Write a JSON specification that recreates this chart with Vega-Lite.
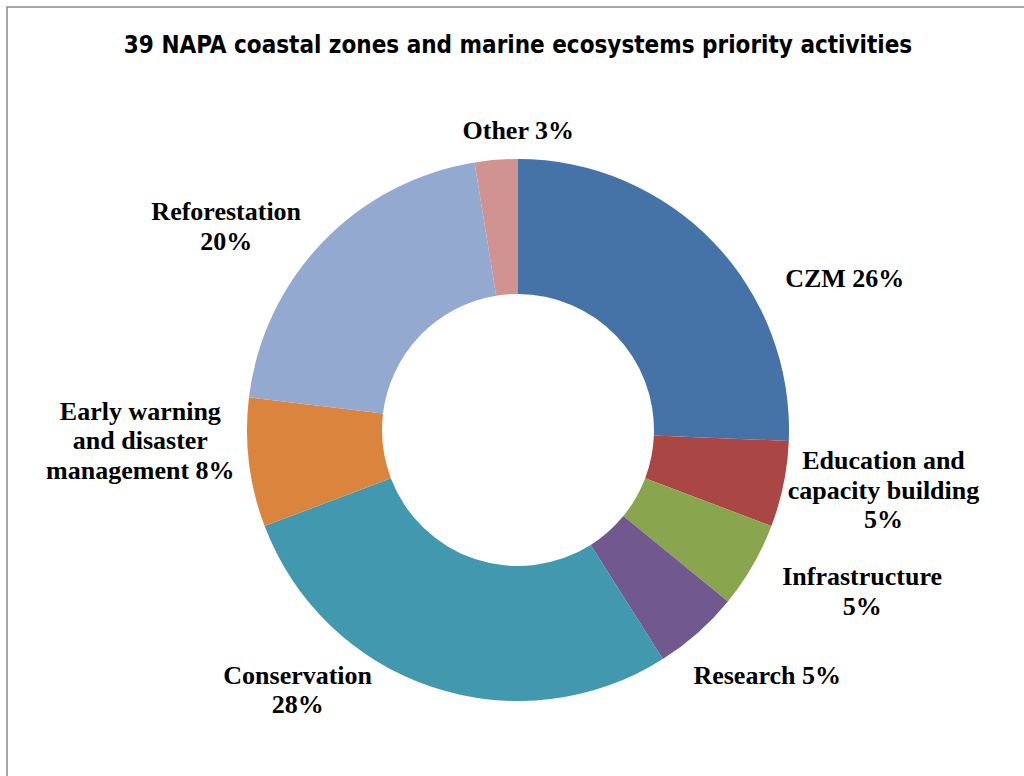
{
  "$schema": "https://vega.github.io/schema/vega-lite/v6.json",
  "width": 1022,
  "height": 846,
  "autosize": {"type": "none"},
  "padding": {"left": 7, "top": 7, "right": -5, "bottom": -77},
  "background": "white",
  "title": {
    "text": "39 NAPA coastal zones and marine ecosystems priority activities",
    "font": "Liberation Sans Narrow, DejaVu Sans Condensed, sans-serif",
    "fontSize": 24,
    "fontWeight": "bold",
    "color": "#000000",
    "anchor": "middle",
    "baseline": "alphabetic",
    "offset": -71
  },
  "data": {
    "values": [
      {"idx": 1, "cat": "CZM", "n": 10, "label": "CZM 26%"},
      {"idx": 2, "cat": "Education and capacity building", "n": 2, "label": "Education and\ncapacity building\n5%"},
      {"idx": 3, "cat": "Infrastructure", "n": 2, "label": "Infrastructure\n5%"},
      {"idx": 4, "cat": "Research", "n": 2, "label": "Research 5%"},
      {"idx": 5, "cat": "Conservation", "n": 11, "label": "Conservation\n28%"},
      {"idx": 6, "cat": "Early warning and disaster management", "n": 3, "label": "Early warning\nand disaster\nmanagement 8%"},
      {"idx": 7, "cat": "Reforestation", "n": 8, "label": "Reforestation\n20%"},
      {"idx": 8, "cat": "Other", "n": 1, "label": "Other 3%"}
    ]
  },
  "layer": [
    {
      "data": {"values": [{"frame": "border"}]},
      "mark": {"type": "rect", "fill": null, "fillOpacity": 0, "stroke": "#8a8a8a", "strokeWidth": 1.5},
      "encoding": {}
    },
    {
      "mark": {"type": "arc", "outerRadius": 271, "innerRadius": 136},
      "encoding": {
        "theta": {"field": "n", "type": "quantitative", "stack": true},
        "order": {"field": "idx", "type": "quantitative"},
        "color": {
          "field": "cat",
          "type": "nominal",
          "legend": null,
          "scale": {
            "domain": ["CZM", "Education and capacity building", "Infrastructure", "Research", "Conservation", "Early warning and disaster management", "Reforestation", "Other"],
            "range": ["#4572A7", "#AA4643", "#89A54E", "#71588F", "#4198AF", "#DB843D", "#93A9CF", "#D19392"]
          }
        }
      }
    },
    {
      "mark": {"type": "text", "radius": 320, "dx": 96, "dy": 71, "font": "Liberation Serif", "fontWeight": "bold", "fontSize": 26, "lineBreak": "\n", "lineHeight": 29.5, "align": "center", "baseline": "middle", "color": "#000000"},
      "encoding": {
        "theta": {"field": "n", "type": "quantitative", "stack": true},
        "order": {"field": "idx", "type": "quantitative"},
        "detail": {"field": "cat", "type": "nominal"},
        "text": {"condition": {"test": "datum.cat === 'CZM'", "field": "label", "type": "nominal"}, "value": ""}
      }
    },
    {
      "mark": {"type": "text", "radius": 320, "dx": 52, "dy": -33, "font": "Liberation Serif", "fontWeight": "bold", "fontSize": 26, "lineBreak": "\n", "lineHeight": 29.5, "align": "center", "baseline": "middle", "color": "#000000"},
      "encoding": {
        "theta": {"field": "n", "type": "quantitative", "stack": true},
        "order": {"field": "idx", "type": "quantitative"},
        "detail": {"field": "cat", "type": "nominal"},
        "text": {"condition": {"test": "datum.cat === 'Education and capacity building'", "field": "label", "type": "nominal"}, "value": ""}
      }
    },
    {
      "mark": {"type": "text", "radius": 320, "dx": 67, "dy": -13, "font": "Liberation Serif", "fontWeight": "bold", "fontSize": 26, "lineBreak": "\n", "lineHeight": 29.5, "align": "center", "baseline": "middle", "color": "#000000"},
      "encoding": {
        "theta": {"field": "n", "type": "quantitative", "stack": true},
        "order": {"field": "idx", "type": "quantitative"},
        "detail": {"field": "cat", "type": "nominal"},
        "text": {"condition": {"test": "datum.cat === 'Infrastructure'", "field": "label", "type": "nominal"}, "value": ""}
      }
    },
    {
      "mark": {"type": "text", "radius": 320, "dx": 37, "dy": 6, "font": "Liberation Serif", "fontWeight": "bold", "fontSize": 26, "lineBreak": "\n", "lineHeight": 29.5, "align": "center", "baseline": "middle", "color": "#000000"},
      "encoding": {
        "theta": {"field": "n", "type": "quantitative", "stack": true},
        "order": {"field": "idx", "type": "quantitative"},
        "detail": {"field": "cat", "type": "nominal"},
        "text": {"condition": {"test": "datum.cat === 'Research'", "field": "label", "type": "nominal"}, "value": ""}
      }
    },
    {
      "mark": {"type": "text", "radius": 320, "dx": -119, "dy": -58, "font": "Liberation Serif", "fontWeight": "bold", "fontSize": 26, "lineBreak": "\n", "lineHeight": 29.5, "align": "center", "baseline": "middle", "color": "#000000"},
      "encoding": {
        "theta": {"field": "n", "type": "quantitative", "stack": true},
        "order": {"field": "idx", "type": "quantitative"},
        "detail": {"field": "cat", "type": "nominal"},
        "text": {"condition": {"test": "datum.cat === 'Conservation'", "field": "label", "type": "nominal"}, "value": ""}
      }
    },
    {
      "mark": {"type": "text", "radius": 320, "dx": -60, "dy": -57, "font": "Liberation Serif", "fontWeight": "bold", "fontSize": 26, "lineBreak": "\n", "lineHeight": 29.5, "align": "center", "baseline": "middle", "color": "#000000"},
      "encoding": {
        "theta": {"field": "n", "type": "quantitative", "stack": true},
        "order": {"field": "idx", "type": "quantitative"},
        "detail": {"field": "cat", "type": "nominal"},
        "text": {"condition": {"test": "datum.cat === 'Early warning and disaster management'", "field": "label", "type": "nominal"}, "value": ""}
      }
    },
    {
      "mark": {"type": "text", "radius": 320, "dx": -61, "dy": 4, "font": "Liberation Serif", "fontWeight": "bold", "fontSize": 26, "lineBreak": "\n", "lineHeight": 29.5, "align": "center", "baseline": "middle", "color": "#000000"},
      "encoding": {
        "theta": {"field": "n", "type": "quantitative", "stack": true},
        "order": {"field": "idx", "type": "quantitative"},
        "detail": {"field": "cat", "type": "nominal"},
        "text": {"condition": {"test": "datum.cat === 'Reforestation'", "field": "label", "type": "nominal"}, "value": ""}
      }
    },
    {
      "mark": {"type": "text", "radius": 320, "dx": 26, "dy": 20, "font": "Liberation Serif", "fontWeight": "bold", "fontSize": 26, "lineBreak": "\n", "lineHeight": 29.5, "align": "center", "baseline": "middle", "color": "#000000"},
      "encoding": {
        "theta": {"field": "n", "type": "quantitative", "stack": true},
        "order": {"field": "idx", "type": "quantitative"},
        "detail": {"field": "cat", "type": "nominal"},
        "text": {"condition": {"test": "datum.cat === 'Other'", "field": "label", "type": "nominal"}, "value": ""}
      }
    }
  ]
}
